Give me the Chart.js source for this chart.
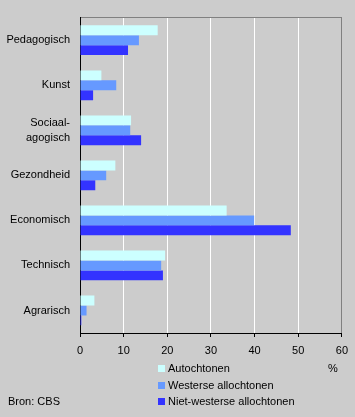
<!DOCTYPE html>
<html>
<head>
<meta charset="utf-8">
<script src="https://cdn.jsdelivr.net/npm/chart.js@4/dist/chart.umd.min.js"></script>
<style>
html,body{margin:0;padding:0;background:#cccccc;}
canvas{display:block;}
</style>
</head>
<body>
<canvas id="c" width="355" height="417"></canvas>
<script>
const categories = ['Pedagogisch', 'Kunst', ['Sociaal-', 'agogisch'], 'Gezondheid', 'Economisch', 'Technisch', 'Agrarisch'];
const seriesNames = ['Autochtonen', 'Westerse allochtonen', 'Niet-westerse allochtonen'];
const autochtonen = [17.8, 4.9, 11.7, 8.1, 33.6, 19.5, 3.3];
const westerseAllochtonen = [13.5, 8.3, 11.5, 6.0, 39.9, 18.6, 1.5];
const nietWesterseAllochtonen = [11.0, 3.0, 14.0, 3.5, 48.3, 19.0, 0.3];
const xTicks = [0, 10, 20, 30, 40, 50, 60];
const unitLabel = '%';
const sourceLabel = 'Bron: CBS';

const FONT = '"Liberation Sans", Arial, sans-serif';
const colors = ['#ccffff', '#6699ff', '#3333ff'];

const extras = {
  id: 'extras',
  afterDraw(chart) {
    const ctx = chart.ctx;
    ctx.save();
    ctx.font = '11px ' + FONT;
    ctx.fillStyle = '#000';
    ctx.textBaseline = 'middle';
    const rows = [369, 386, 402];
    chart.data.datasets.forEach((ds, i) => {
      ctx.fillStyle = ds.backgroundColor;
      ctx.fillRect(158, rows[i] - 4, 7, 7);
      ctx.fillStyle = '#000';
      ctx.textAlign = 'left';
      ctx.fillText(ds.label, 168, rows[i]);
    });
    ctx.textAlign = 'center';
    ctx.fillText(unitLabel, 333, 369);
    ctx.textAlign = 'left';
    ctx.fillText(sourceLabel, 8, 402);
    ctx.restore();
  }
};

new Chart(document.getElementById('c'), {
  type: 'bar',
  data: {
    labels: categories,
    datasets: [
      { label: seriesNames[0], data: autochtonen, backgroundColor: colors[0] },
      { label: seriesNames[1], data: westerseAllochtonen, backgroundColor: colors[1] },
      { label: seriesNames[2], data: nietWesterseAllochtonen, backgroundColor: colors[2] }
    ]
  },
  options: {
    indexAxis: 'y',
    responsive: false,
    animation: false,
    devicePixelRatio: 1,
    categoryPercentage: 0.66,
    barPercentage: 1,
    layout: { padding: { left: 0, right: 13, top: 15, bottom: 0 } },
    plugins: { legend: { display: false }, tooltip: { enabled: false } },
    scales: {
      x: {
        min: 0, max: 60,
        afterBuildTicks(scale) { scale.ticks = xTicks.map(v => ({ value: v })); },
        afterFit(scale) { scale.height = 84; },
        grid: {
          color: ctx => ctx.index === 6 ? '#808080' : (ctx.index === 0 ? '#000000' : '#ffffff'),
          lineWidth: 1,
          tickColor: '#000000',
          tickLength: 4,
          drawTicks: true
        },
        border: { display: true, color: '#000000', width: 1 },
        ticks: { color: '#000', font: { family: FONT, size: 11 }, padding: 7, maxRotation: 0 }
      },
      xTop: {
        position: 'top',
        axis: 'x',
        min: 0, max: 60,
        afterFit(scale) { scale.height = 0; },
        grid: { display: false, drawTicks: false },
        border: { display: true, color: '#808080', width: 1 },
        ticks: { display: false }
      },
      y: {
        afterFit(scale) { scale.width = 80; },
        grid: { display: false, drawTicks: false },
        border: { display: true, color: '#000000', width: 1 },
        ticks: { color: '#000', font: { family: FONT, size: 11, lineHeight: 1.4 }, padding: 10, crossAlign: 'near' }
      }
    }
  },
  plugins: [extras]
});
</script>
</body>
</html>
